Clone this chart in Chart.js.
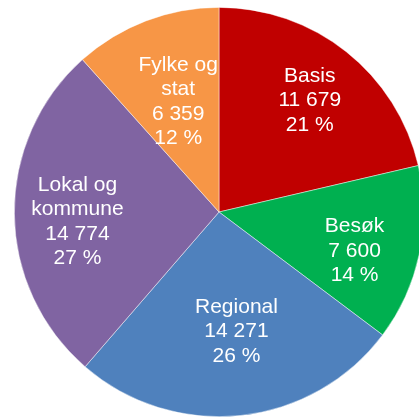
<!DOCTYPE html>
<html>
<head>
<meta charset="utf-8">
<script src="https://cdn.jsdelivr.net/npm/chart.js@4/dist/chart.umd.min.js"></script>
<style>
    html, body { margin: 0; padding: 0; background: #fff; overflow: hidden; }
    #chart-container { display: block; }
</style>
</head>
<body>
<canvas id="chart-container" width="438" height="418"></canvas>
<script>
// slice names (one entry per line of the label)
const categories = [["Basis"], ["Besøk"], ["Regional"], ["Lokal og", "kommune"], ["Fylke og", "stat"]];
const values = [11679, 7600, 14271, 14774, 6359];
const colors = ["#C00000", "#00B050", "#4F81BD", "#8064A2", "#F79646"];

// label placement: fraction of radius, and small turn (degrees) off the slice middle
const labelRadius = [0.707, 0.688, 0.584, 0.693, 0.58];
const labelTurn = [0.4, 3.7, -2.3, -3.1, 0.8];

const total = values.reduce((a, b) => a + b, 0);
const formatNumber = (n) => String(n).replace(/\B(?=(\d{3})+(?!\d))/g, " ");

const sliceLabels = {
    id: "sliceLabels",
    afterDatasetsDraw(chart) {
        const ctx = chart.ctx;
        const meta = chart.getDatasetMeta(0);
        ctx.save();
        ctx.fillStyle = "#ffffff";
        ctx.font = "21px 'Liberation Sans', Arial, sans-serif";
        ctx.textAlign = "center";
        ctx.textBaseline = "middle";
        const lineHeight = 24.5;
        meta.data.forEach((arc, i) => {
            const p = arc.getProps(["x", "y", "startAngle", "endAngle", "outerRadius"], true);
            const mid = (p.startAngle + p.endAngle) / 2 + (labelTurn[i] * Math.PI) / 180;
            const r = p.outerRadius * labelRadius[i];
            const cx = p.x + Math.cos(mid) * r;
            const cy = p.y + Math.sin(mid) * r + 1;
            const lines = categories[i].concat([
                formatNumber(values[i]),
                Math.round((values[i] / total) * 100) + " %",
            ]);
            const top = cy - ((lines.length - 1) * lineHeight) / 2;
            lines.forEach((line, j) => {
                ctx.fillText(line, cx, top + j * lineHeight);
            });
        });
        ctx.restore();
    },
};

new Chart(document.getElementById("chart-container"), {
    type: "pie",
    data: {
        labels: categories.map((c) => c.join(" ")),
        datasets: [
            {
                data: values,
                backgroundColor: colors,
                borderColor: "rgba(255,255,255,0.6)",
                borderWidth: 0.75,
            },
        ],
    },
    options: {
        responsive: false,
        animation: false,
        layout: { padding: { top: 7, bottom: 1, left: 0, right: 0 } },
        plugins: {
            legend: { display: false },
            tooltip: { enabled: false },
        },
    },
    plugins: [sliceLabels],
});
</script>
</body>
</html>
